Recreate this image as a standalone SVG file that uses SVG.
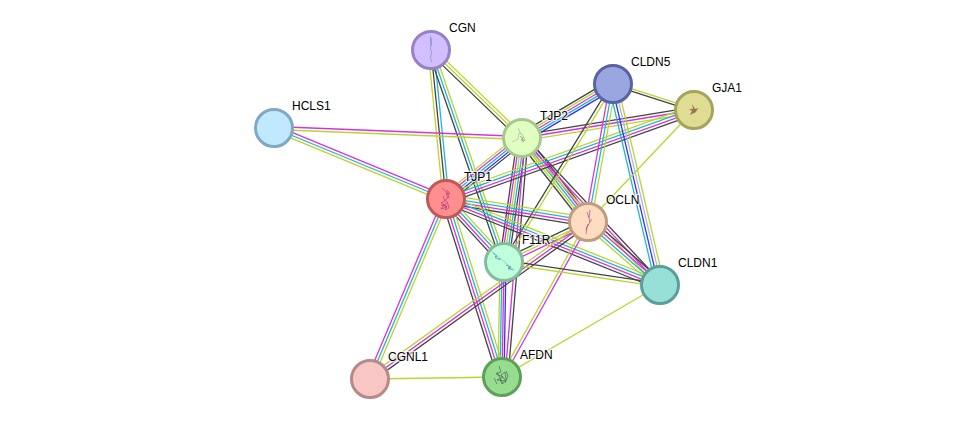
<svg xmlns="http://www.w3.org/2000/svg" width="975" height="424" viewBox="0 0 975 424">
<style>
line{fill:none;stroke-width:1.3}
.k{stroke:#444}.y{stroke:#b8d62e}.c{stroke:#22b4d8}.m{stroke:#d930e0}.b{stroke:#3232f0}.l{stroke:#b0b0f8}
circle{stroke-width:3}
text{font-family:"Liberation Sans",Arial,sans-serif;font-size:12px;fill:#000;stroke:#fff;stroke-width:2.5px;stroke-opacity:.75;paint-order:stroke;stroke-linejoin:round}
.s{fill:none;stroke-width:.7;stroke-linejoin:round}
</style>
<rect width="975" height="424" fill="#fff"/>
<g id="connectors">
<!-- CGN - TJP2 -->
<line class="k" x1="429" y1="52.1" x2="520" y2="140.1"/><line class="y" x1="431" y1="50" x2="522" y2="138"/><line class="y" x1="433" y1="47.9" x2="524" y2="135.9"/>
<!-- CGN - TJP1 -->
<line class="y" x1="428.1" y1="50.3" x2="443.1" y2="199.3"/><line class="k" x1="431" y1="50" x2="446" y2="199"/><line class="c" x1="433.9" y1="49.7" x2="448.9" y2="198.7"/>
<!-- CGN - F11R -->
<line class="k" x1="428.3" y1="51" x2="501.3" y2="263"/><line class="c" x1="431" y1="50" x2="504" y2="262"/><line class="y" x1="433.7" y1="49" x2="506.7" y2="261"/>
<!-- HCLS1 -->
<line class="m" x1="274" y1="126.5" x2="522" y2="136.5"/><line class="y" x1="274" y1="129.5" x2="522" y2="139.5"/>
<line class="m" x1="275.1" y1="125.3" x2="447.1" y2="196.3"/><line class="c" x1="274" y1="128" x2="446" y2="199"/><line class="y" x1="272.9" y1="130.7" x2="444.9" y2="201.7"/>
<!-- TJP2 - CLDN5 -->
<line class="k" x1="519.6" y1="133.9" x2="610.6" y2="79.9"/><line class="y" x1="520.8" y1="135.9" x2="611.8" y2="81.9"/><line class="m" x1="522" y1="138" x2="613" y2="84"/><line class="c" x1="523.2" y1="140.1" x2="614.2" y2="86.1"/><line class="b" x1="524.4" y1="142.1" x2="615.4" y2="88.1"/>
<!-- TJP2 - GJA1 -->
<line class="k" x1="521.5" y1="135.1" x2="693.5" y2="107.1"/><line class="m" x1="522" y1="138" x2="694" y2="110"/><line class="y" x1="522.5" y1="140.9" x2="694.5" y2="112.9"/>
<!-- TJP2 - TJP1 -->
<line class="y" x1="519" y1="134.3" x2="443" y2="195.3"/><line class="m" x1="520.5" y1="136.1" x2="444.5" y2="197.1"/><line class="c" x1="522" y1="138" x2="446" y2="199"/><line class="b" x1="523.5" y1="139.9" x2="447.5" y2="200.9"/><line class="k" x1="525" y1="141.7" x2="449" y2="202.7"/>
<!-- TJP2 - OCLN -->
<line class="k" x1="518.2" y1="141" x2="584.2" y2="225"/><line class="y" x1="520.1" y1="139.5" x2="586.1" y2="223.5"/><line class="c" x1="522" y1="138" x2="588" y2="222"/><line class="m" x1="523.9" y1="136.5" x2="589.9" y2="220.5"/><line class="k" x1="525.8" y1="135" x2="591.8" y2="219"/>
<!-- TJP2 - F11R -->
<line class="k" x1="517.3" y1="138.7" x2="499.3" y2="262.7"/><line class="m" x1="519.6" y1="138.35" x2="501.6" y2="262.35"/><line class="y" x1="522" y1="138" x2="504" y2="262"/><line class="c" x1="524.4" y1="137.65" x2="506.4" y2="261.65"/><line class="k" x1="526.7" y1="137.3" x2="508.7" y2="261.3"/>
<!-- TJP2 - AFDN -->
<line class="m" x1="525" y1="138" x2="505" y2="377"/><line class="k" x1="528" y1="138.5" x2="508" y2="377.5"/>
<!-- F11R - AFDN -->
<line class="y" x1="500" y1="262" x2="498" y2="377"/><line class="c" x1="502" y1="262" x2="500" y2="377"/><line class="m" x1="504" y1="262" x2="502" y2="377"/><line class="b" x1="506" y1="262" x2="504" y2="377"/>
<!-- TJP2 - CLDN1 -->
<line class="y" x1="519.9" y1="140" x2="657.9" y2="287"/><line class="m" x1="522" y1="138" x2="660" y2="285"/><line class="k" x1="524.1" y1="136" x2="662.1" y2="283"/>
<!-- TJP1 - GJA1 -->
<line class="y" x1="444.5" y1="194.9" x2="692.5" y2="105.9"/><line class="c" x1="445.5" y1="197.6" x2="693.5" y2="108.6"/><line class="m" x1="446.5" y1="200.4" x2="694.5" y2="111.4"/><line class="k" x1="447.5" y1="203.1" x2="695.5" y2="114.1"/>
<!-- CLDN5 - OCLN -->
<line class="m" x1="610" y1="83.5" x2="585" y2="221.5"/><line class="c" x1="613" y1="84" x2="588" y2="222"/><line class="y" x1="616" y1="84.5" x2="591" y2="222.5"/>
<!-- CLDN5 - CLDN1 -->
<line class="c" x1="608.8" y1="85" x2="655.8" y2="286"/><line class="b" x1="611.6" y1="84.3" x2="658.6" y2="285.3"/><line class="l" x1="614.4" y1="83.7" x2="661.4" y2="284.7"/><line class="y" x1="617.2" y1="83" x2="664.2" y2="284"/>
<!-- CLDN5 - F11R -->
<line class="k" x1="611.7" y1="83.2" x2="502.7" y2="261.2"/><line class="y" x1="614.3" y1="84.8" x2="505.3" y2="262.8"/>
<!-- CLDN5 - GJA1 -->
<line class="y" x1="613.4" y1="82.9" x2="694.4" y2="108.9"/><line class="k" x1="612.6" y1="85.1" x2="693.6" y2="111.1"/>
<!-- GJA1 - OCLN -->
<line class="y" x1="694" y1="110" x2="588" y2="222"/>
<!-- TJP1 - OCLN -->
<line class="y" x1="446.7" y1="194.7" x2="588.7" y2="217.7"/><line class="c" x1="446.2" y1="197.6" x2="588.2" y2="220.6"/><line class="m" x1="445.8" y1="200.4" x2="587.8" y2="223.4"/><line class="k" x1="445.3" y1="203.3" x2="587.3" y2="226.3"/>
<!-- TJP1 - F11R -->
<line class="k" x1="442.8" y1="201.9" x2="500.8" y2="264.9"/><line class="m" x1="444.9" y1="200" x2="502.9" y2="263"/><line class="c" x1="447.1" y1="198" x2="505.1" y2="261"/><line class="y" x1="449.2" y1="196.1" x2="507.2" y2="259.1"/>
<!-- TJP1 - CLDN1 -->
<line class="y" x1="447.6" y1="195" x2="661.6" y2="281"/><line class="c" x1="446.5" y1="197.7" x2="660.5" y2="283.7"/><line class="m" x1="445.5" y1="200.3" x2="659.5" y2="286.3"/><line class="k" x1="444.4" y1="203" x2="658.4" y2="289"/>
<!-- TJP1 - AFDN -->
<line class="k" x1="441.8" y1="200.3" x2="497.8" y2="378.3"/><line class="m" x1="444.6" y1="199.4" x2="500.6" y2="377.4"/><line class="c" x1="447.4" y1="198.6" x2="503.4" y2="376.6"/><line class="y" x1="450.2" y1="197.7" x2="506.2" y2="375.7"/>
<!-- TJP1 - CGNL1 -->
<line class="m" x1="443.3" y1="197.9" x2="367.3" y2="377.9"/><line class="c" x1="446" y1="199" x2="370" y2="379"/><line class="y" x1="448.7" y1="200.1" x2="372.7" y2="380.1"/>
<!-- OCLN - F11R -->
<line class="k" x1="586.8" y1="219.4" x2="502.8" y2="259.4"/><line class="y" x1="588" y1="222" x2="504" y2="262"/><line class="m" x1="589.2" y1="224.6" x2="505.2" y2="264.6"/>
<!-- OCLN - CLDN1 -->
<line class="y" x1="585.1" y1="225.3" x2="657.1" y2="288.3"/><line class="c" x1="587" y1="223.1" x2="659" y2="286.1"/><line class="m" x1="589" y1="220.9" x2="661" y2="283.9"/><line class="k" x1="590.9" y1="218.7" x2="662.9" y2="281.7"/>
<!-- OCLN - AFDN -->
<line class="y" x1="586.7" y1="221.3" x2="500.7" y2="376.3"/><line class="m" x1="589.3" y1="222.7" x2="503.3" y2="377.7"/>
<!-- OCLN - CGNL1 -->
<line class="y" x1="586.3" y1="219.6" x2="368.3" y2="376.6"/><line class="m" x1="588" y1="222" x2="370" y2="379"/><line class="k" x1="589.7" y1="224.4" x2="371.7" y2="381.4"/>
<!-- F11R - CLDN1 -->
<line class="k" x1="504.2" y1="260.4" x2="660.2" y2="283.4"/><line class="y" x1="503.8" y1="263.6" x2="659.8" y2="286.6"/>
<!-- single evidence links -->
<line class="y" x1="502" y1="377" x2="660" y2="285"/>
<line class="y" x1="370" y1="379" x2="502" y2="377"/>
</g>
<g id="node-CGN"><circle cx="431" cy="50" r="18.5" fill="#d2bfff" stroke="#9a80c4"/><path class="s" stroke="#7f8fc8" stroke-width="1" d="M430.5 36V48l1 5-1 4 1 5M431.5 38v8"/><text x="449" y="32">CGN</text></g>
<g id="node-CLDN5"><circle cx="613" cy="84" r="18.5" fill="#9aa6e0" stroke="#5763a3"/><text x="631" y="66">CLDN5</text></g>
<g id="node-GJA1"><circle cx="694" cy="110" r="18.5" fill="#dedd93" stroke="#a5a45e"/><path d="M692 104l3 5 3-1-2 4-6 3 2-4-3-2 4 0z" fill="#9a7355"/><text x="712" y="92">GJA1</text></g>
<g id="node-HCLS1"><circle cx="274" cy="128" r="18.5" fill="#c0e8ff" stroke="#80a8c0"/><text x="292" y="110">HCLS1</text></g>
<g id="node-TJP2"><circle cx="522" cy="138" r="18.5" fill="#e0ffc0" stroke="#a8c78f"/><path class="s" stroke="#a8b89a" d="M512 142l6-3 1-6 4 2 2 6-3-3 1 5M518 128l3 6"/><path class="s" stroke="#8a8a80" stroke-width="1.2" d="M520 136l3 2-2 2 3 1"/><text x="540" y="120">TJP2</text></g>
<g id="node-TJP1"><circle cx="446" cy="199" r="18.5" fill="#ff8f8f" stroke="#c05858"/><path class="s" stroke="#b83a78" stroke-width="1.3" d="M442 188l5 4 2 5-4 3 3 3-5 2 4 2-6 2 3-4-3-2 4-2-2-5M447 190l3 4-4-1 2 5M441 205l6 1-2 4 4-2-1-4"/><text x="464" y="181">TJP1</text></g>
<g id="node-OCLN"><circle cx="588" cy="222" r="18.5" fill="#ffdcc0" stroke="#bf9e80"/><path class="s" stroke="#a04a90" stroke-width="1.3" d="M590 210l-1 8 1 4-3 5-1 7M587 212l2 6M590 222l2-3M588 224l-2 6"/><text x="606" y="204">OCLN</text></g>
<g id="node-F11R"><circle cx="504" cy="262" r="18.5" fill="#c0ffdc" stroke="#84bd9c"/><path class="s" stroke="#3a6fc0" stroke-width="1.4" d="M493 253l4 3-2 1 5 3M506 265l5 2-3 1 5 2"/><path class="s" stroke="#88c0b0" d="M491 251l10 8 14 12M495 258l6 1M508 270l4-1"/><text x="522" y="244">F11R</text></g>
<g id="node-CLDN1"><circle cx="660" cy="285" r="18.5" fill="#97e0d7" stroke="#5b9f98"/><text x="678" y="267">CLDN1</text></g>
<g id="node-CGNL1"><circle cx="370" cy="379" r="18.5" fill="#f9c6c6" stroke="#b78a8a"/><text x="388" y="361">CGNL1</text></g>
<g id="node-AFDN"><circle cx="502" cy="377" r="18.5" fill="#96dd90" stroke="#5da158"/><path class="s" stroke="#4f6a50" d="M499 366l2 6-5 2 7 3-6 3 9 1-5-6 4-3 1 8-4 4-2-5M506 371l2 5-3 7M497 372l6 12M494 378l3 6"/><text x="520" y="359">AFDN</text></g>
</svg>
